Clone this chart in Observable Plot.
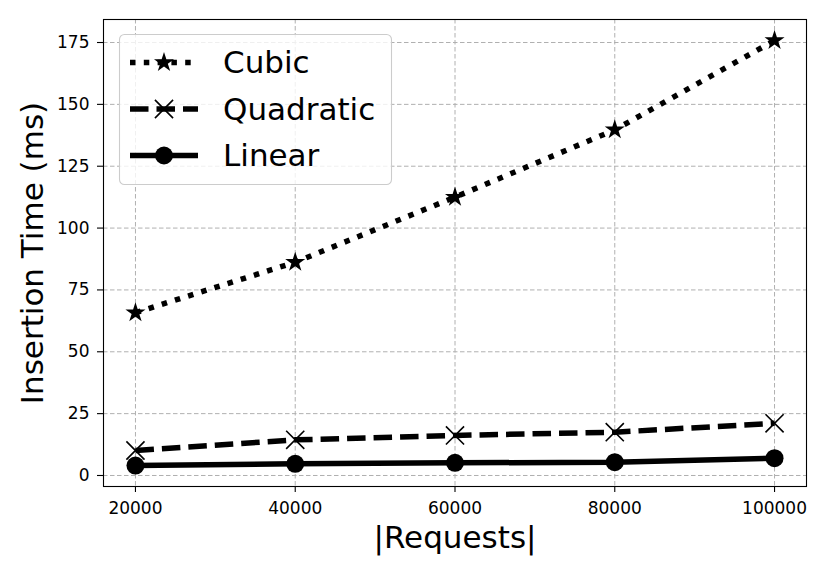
<!DOCTYPE html>
<html><head><meta charset="utf-8">
<script src="https://cdn.jsdelivr.net/npm/d3@7"></script>
<script src="https://cdn.jsdelivr.net/npm/@observablehq/plot@0.6"></script>
<style>
body{margin:0;background:#fff;}
#chart{position:relative;width:830px;height:575px;font-family:"DejaVu Sans",sans-serif;}
#chart svg{display:block;}
#legend{position:absolute;left:0;top:0;pointer-events:none;}
</style></head><body><div id="chart"></div>
<script>
// ---- data ----
const requests = [20000, 40000, 60000, 80000, 100000];
const cubic = [65.8, 86.2, 112.5, 139.7, 175.8];
const quadratic = [10.1, 14.4, 16.2, 17.5, 21.1];
const linear = [4.0, 4.7, 5.1, 5.4, 7.0];
const seriesNames = ["Cubic", "Quadratic", "Linear"];
const xTicks = [20000, 40000, 60000, 80000, 100000];
const yTicks = [0, 25, 50, 75, 100, 125, 150, 175];
const xLabel = "|Requests|";
const yLabel = "Insertion Time (ms)";

// ---- styles ----
const LW = 5.5;
const styles = {
  Cubic:     {dash: "5.5,8.3", symbol: "star",   r: 6.3, fill: "black", stroke: "none", sw: 0},
  Quadratic: {dash: "18.5,8",  symbol: "times",  r: 8.3, fill: "none", stroke: "black", sw: 1.6},
  Linear:    {dash: null,      symbol: "circle", r: 9,   fill: "black", stroke: "none", sw: 0}
};
const values = {Cubic: cubic, Quadratic: quadratic, Linear: linear};
const rows = seriesNames.map(name => requests.map((x, i) => ({series: name, x, y: values[name][i]})));

const font = '"DejaVu Sans", sans-serif';
const marks = [
  Plot.gridX(xTicks, {stroke: "#b0b0b0", strokeOpacity: 1, strokeWidth: 1, strokeDasharray: "4.5,2.5"}),
  Plot.gridY(yTicks, {stroke: "#b0b0b0", strokeOpacity: 1, strokeWidth: 1, strokeDasharray: "4.5,2.5"}),
];
rows.forEach((data, k) => {
  const s = styles[seriesNames[k]];
  marks.push(Plot.line(data, {x: "x", y: "y", stroke: "black", strokeWidth: LW,
    strokeDasharray: s.dash || undefined, strokeLinecap: "butt", strokeLinejoin: "miter"}));
});
rows.forEach((data, k) => {
  const s = styles[seriesNames[k]];
  marks.push(Plot.dot(data, {x: "x", y: "y", symbol: s.symbol, r: s.r, fill: s.fill,
    stroke: s.stroke, strokeWidth: s.sw || undefined}));
});
marks.push(
  Plot.frame({stroke: "black", strokeWidth: 1.1}),
  Plot.axisX(xTicks, {tickFormat: d => String(d), fontSize: 17, fontFamily: font, tickSize: 6, tickPadding: 9, strokeWidth: 1.1, label: null, fill: "black"}),
  Plot.axisY(yTicks, {tickFormat: d => String(d), fontSize: 17, fontFamily: font, tickSize: 6, tickPadding: 8, strokeWidth: 1.1, label: null, fill: "black"}),
  Plot.text([xLabel], {frameAnchor: "bottom", textAnchor: "middle", lineAnchor: "middle", dy: 52, fontSize: 31, fontFamily: font, fill: "black"}),
  Plot.text([yLabel], {frameAnchor: "left", textAnchor: "middle", lineAnchor: "middle", rotate: -90, dx: -70, fontSize: 31, fontFamily: font, fill: "black"})
);

const chart = Plot.plot({
  width: 830, height: 575,
  marginLeft: 103, marginRight: 24, marginTop: 19, marginBottom: 89,
  style: {fontFamily: font, background: "white", color: "black"},
  x: {domain: [16000, 104000]},
  y: {domain: [-4.45, 184.3]},
  marks
});
const host = document.getElementById("chart");
host.appendChild(chart);

// ---- legend overlay ----
const leg = d3.select(host).append("svg").attr("id", "legend")
  .attr("width", 830).attr("height", 575);
leg.append("rect").attr("x", 119.5).attr("y", 34.5).attr("width", 272).attr("height", 150)
  .attr("rx", 5).attr("fill", "white").attr("fill-opacity", 0.8).attr("stroke", "#cccccc").attr("stroke-width", 1.1);
const symMap = {star: d3.symbolStar, times: d3.symbolTimes, circle: d3.symbolCircle};
const rowY = [62.5, 109, 155.5];
seriesNames.forEach((name, k) => {
  const s = styles[name];
  const g = leg.append("g");
  g.append("line").attr("x1", 130).attr("x2", 198).attr("y1", rowY[k]).attr("y2", rowY[k])
    .attr("stroke", "black").attr("stroke-width", LW).attr("stroke-dasharray", s.dash || null);
  g.append("path").attr("transform", `translate(164,${rowY[k]})`)
    .attr("d", d3.symbol(symMap[s.symbol], s.r * s.r * Math.PI)())
    .attr("fill", s.fill).attr("stroke", s.stroke).attr("stroke-width", s.sw || null);
  g.append("text").attr("x", 223).attr("y", rowY[k] + 10.7).attr("font-size", 31)
    .attr("font-family", font).attr("fill", "black").text(name);
});
</script></body></html>
